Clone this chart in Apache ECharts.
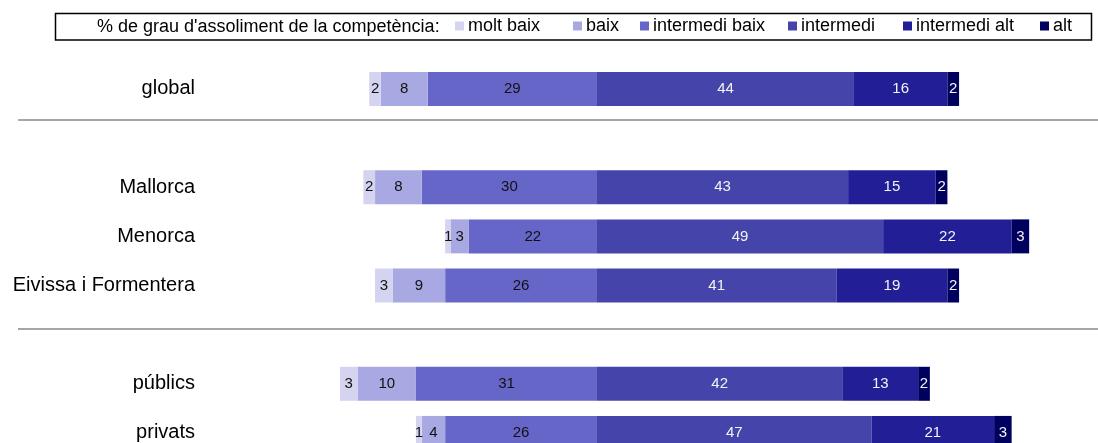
<!DOCTYPE html>
<html>
<head>
<meta charset="utf-8">
<script src="https://cdn.jsdelivr.net/npm/echarts@6/dist/echarts.min.js"></script>
<style>
html,body{margin:0;padding:0;background:#fff;}
#chart{width:1098px;height:443px;}
</style>
</head>
<body>
<div id="chart"></div>
<script>
// ---- Data ----
var categories = ['global', '', 'Mallorca', 'Menorca', 'Eivissa i Formentera', '', 'públics', 'privats'];
var moltBaix      = [2, null, 2, 1, 3, null, 3, 1];
var baix          = [8, null, 8, 3, 9, null, 10, 4];
var intermediBaix = [29, null, 30, 22, 26, null, 31, 26];
var intermedi     = [44, null, 43, 49, 41, null, 42, 47];
var intermediAlt  = [16, null, 15, 22, 19, null, 13, 21];
var alt           = [2, null, 2, 3, 2, null, 2, 3];
var seriesNames = ['molt baix', 'baix', 'intermedi baix', 'intermedi', 'intermedi alt', 'alt'];
var legendTitle = "% de grau d'assoliment de la competència:";

// ---- Styles ----
var colors = {
  'molt baix': '#D4D4F0',
  'baix': '#A8A8E2',
  'intermedi baix': '#6666C8',
  'intermedi': '#4444AA',
  'intermedi alt': '#211E96',
  'alt': '#00005E'
};
var labelColors = {
  'molt baix': '#111', 'baix': '#111', 'intermedi baix': '#111',
  'intermedi': '#f4f4f4', 'intermedi alt': '#f4f4f4', 'alt': '#f4f4f4'
};
var FONT = '"Liberation Sans", Arial, sans-serif';

function neg(arr){ return arr.map(function(v){ return v == null ? null : -v; }); }

function mkSeries(name, data){
  return {
    name: name,
    type: 'bar',
    stack: 'total',
    barWidth: 34,
    data: data,
    itemStyle: { color: colors[name] },
    label: {
      show: true,
      position: 'inside',
      color: labelColors[name],
      fontFamily: FONT,
      fontSize: 15,
      formatter: function(p){ return p.value == null ? '' : Math.abs(p.value); }
    },
    emphasis: { disabled: true }
  };
}

// negative side: series nearest zero first
var series = [
  mkSeries('intermedi baix', neg(intermediBaix)),
  mkSeries('baix', neg(baix)),
  mkSeries('molt baix', neg(moltBaix)),
  mkSeries('intermedi', intermedi),
  mkSeries('intermedi alt', intermediAlt),
  mkSeries('alt', alt)
];

var legendLefts = [455, 573, 640, 788, 903, 1040];
var legends = seriesNames.map(function(n, i){
  return {
    data: [n],
    left: legendLefts[i],
    top: 17,
    padding: 0,
    itemWidth: 9,
    itemHeight: 9,
    icon: 'rect',
    selectedMode: false,
    textStyle: { fontFamily: FONT, fontSize: 18, color: '#000', padding: [0,0,0,-1] }
  };
});

var chart = echarts.init(document.getElementById('chart'), null, {renderer: 'canvas'});
chart.setOption({
  animation: false,
  backgroundColor: '#fff',
  legend: legends,
  grid: { left: 205, top: 64.4, width: 859.2, height: 393.1, containLabel: false, outerBoundsMode: 'none' },
  xAxis: { type: 'value', min: -67.12, max: 80, show: false },
  yAxis: {
    type: 'category',
    data: categories,
    inverse: true,
    axisLine: { show: false },
    axisTick: { show: false },
    splitLine: { show: false },
    axisLabel: { fontFamily: FONT, fontSize: 20, color: '#000', margin: 10 }
  },
  graphic: [
    { type: 'rect', shape: { x: 55.5, y: 13.5, width: 1036, height: 26.5 },
      style: { fill: 'none', stroke: '#000', lineWidth: 1.5 }, silent: true },
    { type: 'text', x: 97, y: 27, style: { text: legendTitle, font: '18px ' + FONT, fill: '#000', textVerticalAlign: 'middle' }, silent: true },
    { type: 'line', shape: { x1: 18, y1: 120, x2: 1098, y2: 120 }, style: { stroke: '#A6A6A6', lineWidth: 2 }, silent: true },
    { type: 'line', shape: { x1: 18, y1: 329, x2: 1098, y2: 329 }, style: { stroke: '#A6A6A6', lineWidth: 2 }, silent: true }
  ],
  series: series
});
</script>
</body>
</html>
